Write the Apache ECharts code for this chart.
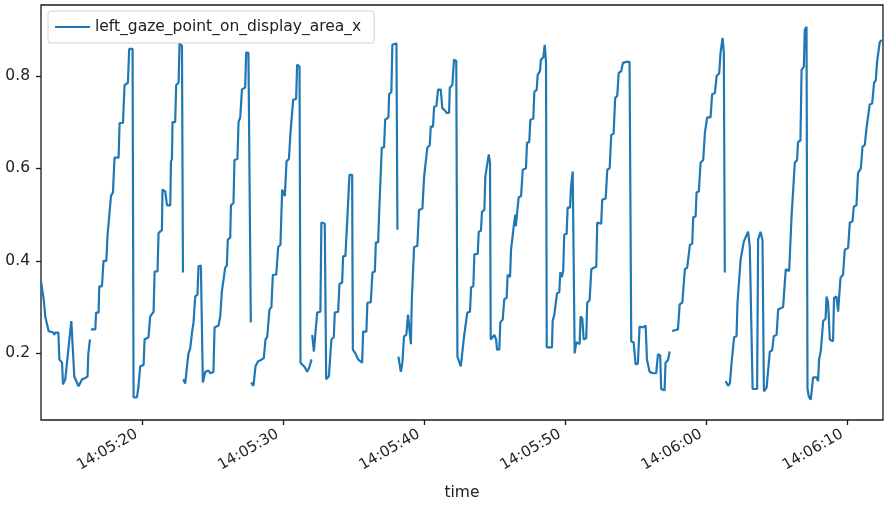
<!DOCTYPE html>
<html>
<head>
<meta charset="utf-8">
<script src="https://cdn.jsdelivr.net/npm/echarts@6/dist/echarts.min.js"></script>
<style>
  html, body {margin: 0; padding: 0; background: #fff;}
  #chart {width: 885px; height: 505px;}
</style>
</head>
<body>
<div id="chart"></div>
<script>
// time in seconds after 14:05:00, null marks a gap in the recording
const timeSec = [
  12.86, 13.05, 13.17, 13.29, 13.40, 13.52, 13.73, 13.80, 13.87, 14.09, 14.16, 14.35, 14.42, 14.58, 14.70, 14.82, 14.94, 15.01, 15.13, 15.22, 15.36, 15.52, 15.77, 16.00, 16.16, 16.21, 16.33, 16.37,
  16.40, 16.71, 16.76, 16.94, 16.99, 17.18, 17.29, 17.49, 17.58, 17.72, 17.82, 17.96, 18.07, 18.36, 18.43, 18.67, 18.78, 19.02, 19.11, 19.35,
  19.42, 19.66, 19.77, 19.89, 20.13, 20.20, 20.48, 20.60, 20.84, 20.91, 21.12, 21.19, 21.43, 21.47, 21.66, 21.79, 22.02, 22.07, 22.14, 22.18, 22.37, 22.44, 22.61, 22.68, 22.85, 22.92, 22.93,
  22.94, 23.08, 23.22, 23.31, 23.43, 23.56, 23.67, 23.79, 23.95, 24.02, 24.19, 24.31, 24.33, 24.43, 24.50, 24.73, 24.85, 25.08, 25.16, 25.44, 25.56, 25.68, 25.79, 25.91, 26.03, 26.10, 26.27, 26.32, 26.50, 26.57, 26.78, 26.86, 26.98, 27.10, 27.33, 27.40, 27.56, 27.73, 27.74,
  27.75, 27.92, 28.06, 28.25, 28.41, 28.65, 28.77, 28.89, 29.05, 29.19, 29.29, 29.53, 29.67, 29.83, 29.95, 30.14, 30.26, 30.43, 30.54, 30.66, 30.73, 30.94, 31.01, 31.18,
  31.25, 31.37, 31.56, 31.72, 31.88, 32.03, 32.05,
  32.08, 32.20, 32.31, 32.43, 32.66, 32.73, 32.97, 33.07, 33.26, 33.37, 33.44, 33.61, 33.68, 33.92, 34.01, 34.20, 34.27, 34.43, 34.55, 34.67, 34.72, 34.91,
  34.96, 35.14, 35.33, 35.62, 35.69, 35.92, 35.99, 36.23, 36.35, 36.52, 36.59, 36.75, 36.82, 36.94, 37.01, 37.17, 37.25, 37.48, 37.53, 37.69, 37.76, 38.05, 38.12, 38.15,
  38.19, 38.29, 38.36, 38.47, 38.59, 38.75, 38.87, 38.99, 39.07, 39.14, 39.25, 39.30, 39.53, 39.65, 39.89, 40.01, 40.13, 40.24, 40.41, 40.48, 40.64, 40.72, 40.88, 41.00, 41.19, 41.30, 41.49, 41.59, 41.78, 41.83, 42.01, 42.13, 42.29,
  42.37, 42.49, 42.61, 42.72, 42.84, 42.96, 43.07, 43.26, 43.34, 43.50, 43.57, 43.81, 43.88, 44.04, 44.11, 44.28, 44.35, 44.45, 44.59, 44.68,
  44.73, 44.87, 44.99, 45.11, 45.18, 45.34, 45.41, 45.58, 45.69, 45.86, 45.93, 46.10, 46.17, 46.29, 46.36, 46.47, 46.51, 46.64, 46.71, 46.88, 47.00, 47.23, 47.30, 47.46, 47.54, 47.75, 47.82, 47.99, 48.06, 48.22, 48.29, 48.46, 48.56, 48.65,
  48.70, 49.07, 49.12, 49.24, 49.36, 49.43, 49.59, 49.66, 49.78, 49.87, 49.94, 50.11, 50.18, 50.35, 50.42, 50.54, 50.63,
  50.68, 50.79, 50.91, 51.03, 51.10, 51.22, 51.32, 51.50, 51.57, 51.74, 51.86, 52.03, 52.21, 52.28, 52.56, 52.63, 52.88, 52.99, 53.16, 53.27, 53.44, 53.55, 53.70, 53.80, 53.98, 54.10, 54.33, 54.57,
  54.69, 54.86, 55.00, 55.16, 55.28, 55.52, 55.71, 55.80, 55.99, 56.22, 56.46, 56.58, 56.74, 56.81, 57.05, 57.12, 57.29, 57.41, 57.50,
  57.59, 57.76, 58.00, 58.12, 58.31, 58.49, 58.65, 58.85, 59.01, 59.08, 59.25, 59.32, 59.48, 59.60, 59.79, 59.91, 60.07, 60.31, 60.42, 60.62, 60.74, 60.92, 61.02, 61.16, 61.25, 61.32, 61.34,
  61.37, 61.56, 61.68, 61.80, 61.91, 61.98, 62.15, 62.22, 62.34, 62.44, 62.58, 62.67, 62.81, 62.97, 63.09, 63.22, 63.29, 63.61, 63.68, 63.85, 63.99, 64.09, 64.28, 64.39,
  64.51, 64.67, 64.79, 64.99, 65.10, 65.45, 65.64, 65.88, 66.05, 66.16, 66.28, 66.44, 66.51, 66.68, 66.76, 66.92, 66.99, 67.11,
  67.18, 67.27, 67.41, 67.58, 67.82, 67.93, 68.00, 68.12, 68.21, 68.29, 68.46, 68.53, 68.64, 68.76, 68.99, 69.06, 69.23, 69.35, 69.52, 69.70, 69.82, 70.06, 70.18, 70.37, 70.46, 70.65, 70.76, 70.96, 71.08, 71.24, 71.36, 71.47, 71.59, 71.76, 71.90, 72.02, 72.11, 72.23, 72.30, 72.45
];

const gazeX = [
  0.356, 0.317, 0.278, 0.263, 0.248, 0.245, 0.245, 0.240, 0.245, 0.245, 0.187, 0.180, 0.133, 0.144, 0.147, 0.215, 0.215, 0.270, 0.270, 0.150, 0.150, 0.129, 0.144, 0.147, 0.150, 0.198, 0.230, null,
  0.252, 0.252, 0.288, 0.288, 0.345, 0.345, 0.400, 0.400, 0.457, 0.457, 0.540, 0.548, 0.623, 0.623, 0.698, 0.698, 0.780, 0.785, 0.858, 0.858,
  0.105, 0.105, 0.129, 0.172, 0.175, 0.230, 0.235, 0.280, 0.290, 0.377, 0.377, 0.460, 0.467, 0.554, 0.550, 0.520, 0.520, 0.615, 0.620, 0.700, 0.700, 0.780, 0.785, 0.870, 0.865, 0.375, null,
  0.144, 0.135, 0.135, 0.200, 0.210, 0.245, 0.267, 0.323, 0.327, 0.388, 0.390, 0.390, 0.137, 0.150, 0.160, 0.163, 0.157, 0.160, 0.256, 0.260, 0.280, 0.334, 0.334, 0.385, 0.390, 0.446, 0.450, 0.520, 0.525, 0.618, 0.620, 0.700, 0.710, 0.770, 0.775, 0.850, 0.850, 0.267, null,
  0.137, 0.130, 0.172, 0.183, 0.185, 0.190, 0.230, 0.235, 0.295, 0.300, 0.370, 0.370, 0.430, 0.435, 0.554, 0.540, 0.615, 0.620, 0.677, 0.680, 0.748, 0.750, 0.824, 0.820,
  0.180, 0.183, 0.170, 0.160, 0.170, 0.187, null,
  0.240, 0.204, 0.206, 0.288, 0.290, 0.483, 0.480, 0.144, 0.150, 0.150, 0.230, 0.235, 0.288, 0.290, 0.350, 0.353, 0.410, 0.410, 0.480, 0.480, 0.586, 0.586,
  0.208, 0.200, 0.187, 0.180, 0.247, 0.247, 0.310, 0.310, 0.375, 0.377, 0.440, 0.440, 0.500, 0.500, 0.645, 0.645, 0.705, 0.710, 0.760, 0.765, 0.867, 0.870, 0.467, null,
  0.193, 0.190, 0.160, 0.180, 0.237, 0.240, 0.284, 0.287, 0.220, 0.317, 0.317, 0.430, 0.432, 0.510, 0.513, 0.582, 0.584, 0.645, 0.650, 0.690, 0.690, 0.733, 0.735, 0.770, 0.770, 0.730, 0.725, 0.720, 0.720, 0.774, 0.780, 0.835, 0.832,
  0.193, 0.190, 0.172, 0.175, 0.237, 0.240, 0.288, 0.290, 0.343, 0.345, 0.414, 0.415, 0.463, 0.465, 0.506, 0.510, 0.582, 0.585, 0.630, 0.612,
  0.230, 0.230, 0.240, 0.230, 0.208, 0.208, 0.267, 0.273, 0.317, 0.320, 0.370, 0.365, 0.424, 0.425, 0.474, 0.500, 0.475, 0.475, 0.537, 0.540, 0.597, 0.600, 0.655, 0.657, 0.705, 0.707, 0.765, 0.770, 0.802, 0.810, 0.835, 0.840, 0.867, 0.828,
  0.213, 0.213, 0.270, 0.284, 0.287, 0.330, 0.332, 0.375, 0.365, 0.380, 0.457, 0.458, 0.515, 0.515, 0.560, 0.593, 0.590,
  0.200, 0.224, 0.226, 0.220, 0.280, 0.275, 0.230, 0.233, 0.310, 0.315, 0.382, 0.385, 0.387, 0.483, 0.480, 0.532, 0.535, 0.597, 0.600, 0.672, 0.675, 0.752, 0.757, 0.806, 0.810, 0.828, 0.830, 0.830,
  0.226, 0.224, 0.176, 0.178, 0.258, 0.256, 0.260, 0.187, 0.160, 0.157, 0.157, 0.198, 0.196, 0.123, 0.120, 0.180, 0.185, 0.204, null,
  0.248, 0.250, 0.252, 0.306, 0.310, 0.382, 0.385, 0.435, 0.437, 0.494, 0.496, 0.548, 0.550, 0.612, 0.618, 0.677, 0.710, 0.710, 0.760, 0.763, 0.800, 0.805, 0.850, 0.882, 0.850, 0.375, null,
  0.140, 0.130, 0.135, 0.180, 0.183, 0.235, 0.237, 0.310, 0.310, 0.403, 0.405, 0.442, 0.440, 0.463, 0.430, 0.428, 0.123, 0.123, 0.446, 0.463, 0.445, 0.118, 0.126, 0.130,
  0.204, 0.206, 0.237, 0.240, 0.295, 0.300, 0.382, 0.378, 0.496, 0.500, 0.612, 0.618, 0.657, 0.660, 0.813, 0.820, 0.900, 0.906,
  0.123, 0.107, 0.100, 0.148, 0.148, 0.140, 0.187, 0.204, 0.200, 0.270, 0.275, 0.323, 0.310, 0.230, 0.226, 0.320, 0.323, 0.290, 0.364, 0.370, 0.424, 0.428, 0.483, 0.485, 0.517, 0.520, 0.590, 0.600, 0.647, 0.650, 0.687, 0.690, 0.738, 0.740, 0.785, 0.790, 0.830, 0.832, 0.873, 0.877
];

const xTickValues = [20, 30, 40, 50, 60, 70];
const xTickLabels = ["14:05:20", "14:05:30", "14:05:40", "14:05:50", "14:06:00", "14:06:10"];
const yTickValues = [0.2, 0.4, 0.6, 0.8];
const yTickLabels = ["0.2", "0.4", "0.6", "0.8"];

const seriesName = "left_gaze_point_on_display_area_x";
const lineColor = "#1f77b4";
const fontFamily = "DejaVu Sans";
const textColor = "#222";

const points = timeSec.map((t, i) => [t, gazeX[i] === null ? "-" : gazeX[i]]);

const pickLabel = (values, labels) => (v) => {
  const i = values.findIndex((d) => Math.abs(d - v) < 1e-6);
  return i < 0 ? "" : labels[i];
};

const chart = echarts.init(document.getElementById("chart"), null, {renderer: "canvas"});

chart.setOption({
  animation: false,
  backgroundColor: "#fff",
  textStyle: {fontFamily: fontFamily},
  grid: {
    left: 41, right: 2, top: 5, bottom: 85,
    outerBoundsMode: "none",
    show: true, borderColor: "#1a1a1a", borderWidth: 1.3, backgroundColor: "transparent",
  },
  legend: {
    left: 48,
    top: 11,
    padding: [8, 13, 8, 7],
    itemWidth: 35,
    itemHeight: 15,
    backgroundColor: "rgba(255,255,255,0.85)",
    borderColor: "#d3d3d3",
    borderWidth: 1,
    borderRadius: 3,
    textStyle: {fontFamily: fontFamily, fontSize: 15.5, color: textColor},
    data: [{name: seriesName, icon: "path://M0,0 L35,0 L35,2 L0,2 Z", itemStyle: {color: lineColor}}],
  },
  xAxis: {
    type: "value",
    min: 12.86,
    max: 72.53,
    name: "time",
    nameLocation: "middle",
    nameGap: 65,
    nameTextStyle: {fontFamily: fontFamily, fontSize: 15.5, color: textColor},
    axisLine: {show: false},
    splitLine: {show: false},
    axisTick: {show: true, length: 5, customValues: xTickValues, lineStyle: {color: "#1a1a1a", width: 1.3}},
    axisLabel: {
      customValues: xTickValues,
      rotate: 30,
      margin: 10,
      padding: [0, 6, 0, 0],
      fontFamily: fontFamily,
      fontSize: 15,
      color: textColor,
      formatter: pickLabel(xTickValues, xTickLabels),
    },
  },
  yAxis: {
    type: "value",
    min: 0.056,
    max: 0.953,
    axisLine: {show: false},
    splitLine: {show: false},
    axisTick: {show: true, length: 5, customValues: yTickValues, lineStyle: {color: "#1a1a1a", width: 1.3}},
    axisLabel: {
      customValues: yTickValues,
      margin: 11,
      fontFamily: fontFamily,
      fontSize: 15.5,
      color: textColor,
      formatter: pickLabel(yTickValues, yTickLabels),
    },
  },
  series: [{
    name: seriesName,
    type: "line",
    data: points,
    symbol: "none",
    showSymbol: false,
    connectNulls: false,
    color: lineColor,
    lineStyle: {color: lineColor, width: 2.2},
  }],
});
</script>
</body>
</html>
